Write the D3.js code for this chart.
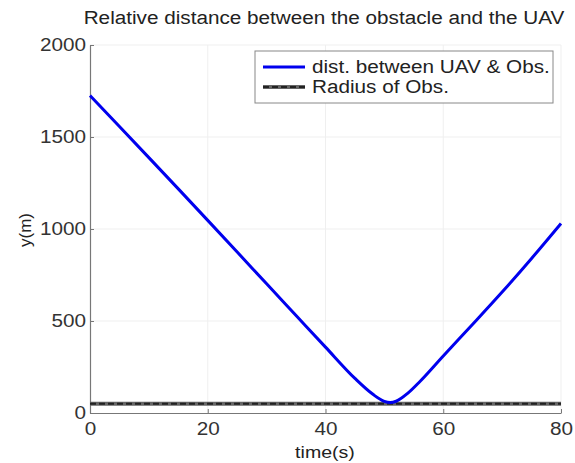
<!DOCTYPE html>
<html>
<head>
<meta charset="utf-8">
<script src="https://cdn.jsdelivr.net/npm/d3@7"></script>
<style>
  html, body { margin: 0; padding: 0; background: #fff; }
  svg { display: block; }
  svg text { font-family: "Liberation Sans", Arial, sans-serif; }
</style>
</head>
<body>
<svg id="chart" width="575" height="463"></svg>
<script>
// Time stamps (s) and distance between UAV and obstacle (m)
const timeS = [0, 5, 10, 15, 20, 25, 30, 35, 40, 45, 48, 50, 51, 52, 54, 56, 60, 65, 70, 75, 80];
const distM = [1725, 1557, 1388, 1218, 1047, 875, 702, 530, 358, 188, 103, 63, 57, 64, 108, 170, 310, 482, 657, 840, 1030];
// Obstacle radius (m), constant over the run
const radiusTime = [0, 80];
const radiusM = [50, 50];

const xTicks = [0, 20, 40, 60, 80];
const yTicks = [0, 500, 1000, 1500, 2000];
const legendLabels = ["dist. between UAV & Obs.", "Radius of Obs."];

const svg = d3.select("#chart");
const plotL = 90, plotR = 561, plotT = 45, plotB = 413;
const FONT = "'Liberation Sans', Arial, sans-serif";

const x = d3.scaleLinear().domain([0, 80]).range([plotL, plotR]);
const y = d3.scaleLinear().domain([0, 2000]).range([plotB, plotT]);

// faint grid
const grid = svg.append("g").attr("stroke", "#efefef").attr("stroke-width", 1);
grid.selectAll("line.gx").data(xTicks.slice(1)).join("line")
  .attr("x1", d => x(d)).attr("x2", d => x(d)).attr("y1", plotT).attr("y2", plotB);
grid.selectAll("line.gy").data(yTicks.slice(1)).join("line")
  .attr("x1", plotL).attr("x2", plotR).attr("y1", d => y(d)).attr("y2", d => y(d));

// axes with inward ticks
const xAxis = svg.append("g").attr("transform", `translate(0,${plotB})`)
  .call(d3.axisBottom(x).tickValues(xTicks).tickFormat(d3.format("d"))
    .tickSize(-4).tickPadding(9).tickSizeOuter(0));
const yAxis = svg.append("g").attr("transform", `translate(${plotL},0)`)
  .call(d3.axisLeft(y).tickValues(yTicks).tickFormat(d3.format("d"))
    .tickSize(-4).tickPadding(4).tickSizeOuter(0));
[xAxis, yAxis].forEach(a => {
  a.attr("font-family", FONT);
  a.select(".domain").attr("stroke", "#777").attr("stroke-width", 1.2);
  a.selectAll(".tick line").attr("stroke", "#777");
  a.selectAll(".tick text").attr("fill", "#333").attr("font-size", 18).classed("wide", true);
});

// radius line
const radLine = d3.line().x((d, i) => x(radiusTime[i])).y(d => y(d));
svg.append("path").datum(radiusM).attr("d", radLine)
  .attr("fill", "none").attr("stroke", "#666").attr("stroke-width", 4);
svg.append("path").datum(radiusM).attr("d", radLine)
  .attr("fill", "none").attr("stroke", "#222").attr("stroke-width", 2).attr("stroke-dasharray", "6,3");

// distance curve
const distLine = d3.line().x((d, i) => x(timeS[i])).y(d => y(d)).curve(d3.curveMonotoneX);
svg.append("path").datum(distM).attr("d", distLine)
  .attr("fill", "none").attr("stroke", "#0000ee").attr("stroke-width", 3);

// title and axis labels
svg.append("text").attr("class", "wide").attr("x", 324).attr("y", 24).attr("text-anchor", "middle")
  .attr("font-size", 18).attr("fill", "#222")
  .text("Relative distance between the obstacle and the UAV");
svg.append("text").attr("class", "wide").attr("x", 325).attr("y", 458).attr("text-anchor", "middle")
  .attr("font-size", 17).attr("fill", "#222").text("time(s)");
svg.append("text").attr("transform", "translate(31,230) rotate(-90)").attr("text-anchor", "middle")
  .attr("font-size", 17).attr("fill", "#222").text("y(m)");

// legend
const lg = svg.append("g");
lg.append("rect").attr("x", 255).attr("y", 51).attr("width", 298).attr("height", 52)
  .attr("fill", "#fff").attr("stroke", "#888").attr("stroke-width", 1);
const rows = lg.selectAll("g.row").data(legendLabels).join("g")
  .attr("transform", (d, i) => `translate(0,${67 + i * 20})`);
rows.each(function(d, i) {
  const g = d3.select(this);
  if (i === 0) {
    g.append("line").attr("x1", 263).attr("x2", 305).attr("stroke", "#0000ee").attr("stroke-width", 3);
  } else {
    g.append("line").attr("x1", 263).attr("x2", 305).attr("stroke", "#666").attr("stroke-width", 4);
    g.append("line").attr("x1", 263).attr("x2", 305).attr("stroke", "#222").attr("stroke-width", 2).attr("stroke-dasharray", "6,3");
  }
  g.append("text").attr("class", "wide").attr("x", 312).attr("y", 6).attr("font-size", 18)
    .attr("fill", "#222").text(d);
});

// the typeface runs a little wide in this figure
svg.selectAll("text.wide").each(function() {
  const w = this.getComputedTextLength();
  d3.select(this).attr("textLength", w * 1.15).attr("lengthAdjust", "spacingAndGlyphs");
});
</script>
</body>
</html>
